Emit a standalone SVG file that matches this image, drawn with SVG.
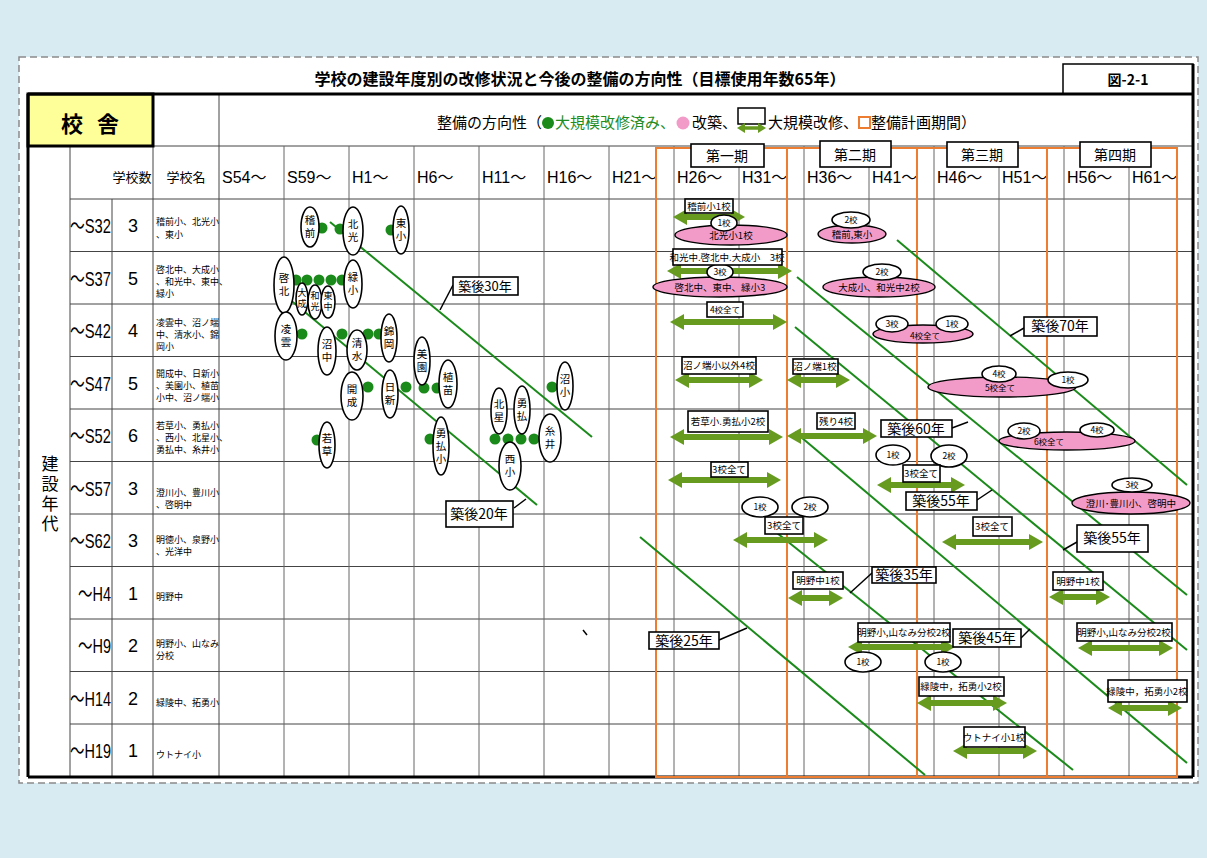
<svg xmlns="http://www.w3.org/2000/svg" width="1207" height="858" viewBox="0 0 1207 858">
<style>
.jp{font-family:"Noto Sans CJK JP","Noto Sans CJK SC",sans-serif}
.lat{font-family:"Liberation Sans","Noto Sans CJK JP",sans-serif}
.g{stroke:#666;stroke-width:1;fill:none}
.h{stroke:#444;stroke-width:1;fill:none}
.thick{stroke:#000;stroke-width:3;fill:none}
.org{stroke:#ed7d31;stroke-width:2;fill:none}
.dg{stroke:#1a8a1a;stroke-width:2;fill:none}
.co{stroke:#000;stroke-width:1.5;fill:none}
.bub{fill:#fff;stroke:#000;stroke-width:1.6}
.pk{fill:#f39bc8;stroke:#000;stroke-width:1.4}
.box{fill:#fff;stroke:#000;stroke-width:1.6}
.dot{fill:#1a8a1a}
.arr{stroke:#669b1f;stroke-width:6;marker-start:url(#ah);marker-end:url(#ah)}
.bt{font-size:10.5px;text-anchor:middle}
.st{font-size:9.5px;text-anchor:middle}
.nt{font-size:9px}
.ct{font-size:14px;text-anchor:middle}
.hd{font-size:16px}
.rl{font-size:21px;text-anchor:end}
.cn{font-size:18px;text-anchor:middle}
</style>
<defs>
<marker id="ah" viewBox="0 0 14 16" refX="1" refY="8" markerWidth="14" markerHeight="16" markerUnits="userSpaceOnUse" orient="auto-start-reverse"><path d="M0,0L14,8L0,16z" fill="#669b1f"/></marker>
<marker id="ahs" viewBox="0 0 8 10" refX="1" refY="5" markerWidth="8" markerHeight="10" markerUnits="userSpaceOnUse" orient="auto-start-reverse"><path d="M0,0L8,5L0,10z" fill="#669b1f"/></marker>
</defs>
<rect x="0" y="0" width="1207" height="858" fill="#d8eaf2"/>
<rect x="19" y="57" width="1179" height="726" fill="#fff" stroke="#8a8a8a" stroke-width="1.5" stroke-dasharray="7 4"/>

<g id="title">
<text class="jp" x="580" y="85" font-size="16" font-weight="bold" text-anchor="middle">学校の建設年度別の改修状況と今後の整備の方向性（目標使用年数65年）</text>
<rect x="1063" y="64" width="130" height="30" fill="#fff" stroke="#000" stroke-width="1.5"/>
<text class="jp" x="1128" y="85" font-size="14" font-weight="bold" text-anchor="middle">図-2-1</text>
</g>

<g id="grid">
<line class="h" x1="153" y1="146" x2="1193" y2="146"/>
<line class="h" x1="70" y1="199" x2="1193" y2="199"/>
<line class="h" x1="70" y1="251.5" x2="1193" y2="251.5"/>
<line class="h" x1="70" y1="304" x2="1193" y2="304"/>
<line class="h" x1="70" y1="356.5" x2="1193" y2="356.5"/>
<line class="h" x1="70" y1="409" x2="1193" y2="409"/>
<line class="h" x1="70" y1="461.5" x2="1193" y2="461.5"/>
<line class="h" x1="70" y1="514" x2="1193" y2="514"/>
<line class="h" x1="70" y1="566.5" x2="1193" y2="566.5"/>
<line class="h" x1="70" y1="619" x2="1193" y2="619"/>
<line class="h" x1="70" y1="671.5" x2="1193" y2="671.5"/>
<line class="h" x1="70" y1="724" x2="1193" y2="724"/>
<line class="h" x1="70" y1="146" x2="70" y2="777"/>
<line class="h" x1="112" y1="199" x2="112" y2="777"/>
<line class="h" x1="153" y1="94" x2="153" y2="777"/>
<line class="h" x1="219" y1="94" x2="219" y2="777"/>
<g class="g">
<line x1="284" y1="146" x2="284" y2="777"/><line x1="349" y1="146" x2="349" y2="777"/>
<line x1="414" y1="146" x2="414" y2="777"/><line x1="479" y1="146" x2="479" y2="777"/>
<line x1="544" y1="146" x2="544" y2="777"/><line x1="609" y1="146" x2="609" y2="777"/>
<line x1="674" y1="146" x2="674" y2="777"/><line x1="739" y1="146" x2="739" y2="777"/>
<line x1="804" y1="146" x2="804" y2="777"/><line x1="869" y1="146" x2="869" y2="777"/>
<line x1="934" y1="146" x2="934" y2="777"/><line x1="999" y1="146" x2="999" y2="777"/>
<line x1="1064" y1="146" x2="1064" y2="777"/><line x1="1129" y1="146" x2="1129" y2="777"/>
</g>
<rect x="28" y="94" width="125" height="52" fill="#ffff99" stroke="#000" stroke-width="3"/>
<text class="jp" x="72" y="132" font-size="22" font-weight="bold" text-anchor="middle">校</text>
<text class="jp" x="108" y="132" font-size="22" font-weight="bold" text-anchor="middle">舎</text>
<line class="thick" x1="28" y1="94" x2="1193" y2="94"/>
<line class="thick" x1="28" y1="94" x2="28" y2="777"/>
<line class="thick" x1="1193" y1="64" x2="1193" y2="777"/>
<line class="thick" x1="28" y1="777" x2="1193" y2="777"/>
<line x1="583" y1="630" x2="587" y2="635" stroke="#000" stroke-width="1.5"/>
</g>

<g id="legend">
<text class="jp" x="437" y="128" font-size="15">整備の方向性（</text>
<circle cx="548" cy="123" r="6" fill="#1a8a1a"/>
<text class="jp" x="555" y="128" font-size="15" fill="#1e8c1e">大規模改修済み、</text>
<circle cx="683" cy="123" r="6.5" fill="#f39bc8"/>
<text class="jp" x="692" y="128" font-size="15">改築、</text>
<rect x="738" y="108" width="27" height="16" fill="#fff" stroke="#000" stroke-width="1.5"/>
<line x1="744" y1="128" x2="759" y2="128" stroke="#669b1f" stroke-width="3.5" marker-start="url(#ahs)" marker-end="url(#ahs)"/>
<text class="jp" x="768" y="128" font-size="15">大規模改修、</text>
<rect x="859" y="117" width="11" height="11" fill="#fff" stroke="#ed7d31" stroke-width="2"/>
<text class="jp" x="871" y="128" font-size="15">整備計画期間）</text>
</g>

<g id="headers" class="lat hd">
<text x="222" y="183">S54～</text><text x="287" y="183">S59～</text>
<text x="352" y="183">H1～</text><text x="417" y="183">H6～</text>
<text x="482" y="183">H11～</text><text x="547" y="183">H16～</text>
<text x="612" y="183">H21～</text><text x="677" y="183">H26～</text>
<text x="742" y="183">H31～</text><text x="807" y="183">H36～</text>
<text x="872" y="183">H41～</text><text x="937" y="183">H46～</text>
<text x="1002" y="183">H51～</text><text x="1067" y="183">H56～</text>
<text x="1132" y="183">H61～</text>
<text class="jp" x="132" y="182" font-size="13" text-anchor="middle">学校数</text>
<text class="jp" x="186" y="182" font-size="13" text-anchor="middle">学校名</text>
</g>

<g id="periods">
<rect class="org" x="656" y="148" width="131" height="629"/>
<rect class="org" x="787" y="148" width="130" height="629"/>
<rect class="org" x="917" y="148" width="130" height="629"/>
<rect class="org" x="1047" y="148" width="130" height="629"/>
<g id="p1"><rect class="box" x="691" y="144" width="73" height="23"/><text class="jp ct" x="727" y="161" font-size="13">第一期</text></g>
<g id="p2"><rect class="box" x="820" y="141" width="71" height="26"/><text class="jp ct" x="855" y="160" font-size="13">第二期</text></g>
<g id="p3"><rect class="box" x="947" y="142" width="71" height="25"/><text class="jp ct" x="982" y="160" font-size="13">第三期</text></g>
<g id="p4"><rect class="box" x="1080" y="142" width="71" height="25"/><text class="jp ct" x="1115" y="160" font-size="13">第四期</text></g>
</g>

<g id="rowlabels">
<text class="jp" x="50" y="455" font-size="17" writing-mode="vertical-rl" letter-spacing="3">建設年代</text>
<g class="lat rl">
<text x="111" y="233" textLength="41" lengthAdjust="spacingAndGlyphs">～S32</text>
<text x="111" y="286" textLength="41" lengthAdjust="spacingAndGlyphs">～S37</text>
<text x="111" y="338" textLength="41" lengthAdjust="spacingAndGlyphs">～S42</text>
<text x="111" y="391" textLength="41" lengthAdjust="spacingAndGlyphs">～S47</text>
<text x="111" y="443" textLength="41" lengthAdjust="spacingAndGlyphs">～S52</text>
<text x="111" y="496" textLength="41" lengthAdjust="spacingAndGlyphs">～S57</text>
<text x="111" y="548" textLength="41" lengthAdjust="spacingAndGlyphs">～S62</text>
<text x="111" y="601" textLength="33" lengthAdjust="spacingAndGlyphs">～H4</text>
<text x="111" y="653" textLength="33" lengthAdjust="spacingAndGlyphs">～H9</text>
<text x="111" y="706" textLength="41" lengthAdjust="spacingAndGlyphs">～H14</text>
<text x="111" y="758" textLength="41" lengthAdjust="spacingAndGlyphs">～H19</text>
</g>
<g class="lat cn">
<text x="133" y="232">3</text><text x="133" y="285">5</text><text x="133" y="337">4</text>
<text x="133" y="390">5</text><text x="133" y="442">6</text><text x="133" y="495">3</text>
<text x="133" y="547">3</text><text x="133" y="600">1</text><text x="133" y="652">2</text>
<text x="133" y="705">2</text><text x="133" y="757">1</text>
</g>
<g class="jp nt">
<text x="156" y="225">稽前小、北光小</text><text x="156" y="238">、東小</text>
<text x="156" y="273">啓北中、大成小</text><text x="156" y="285">、和光中、東中、</text><text x="156" y="297">緑小</text>
<text x="156" y="326">凌雲中、沼ノ端</text><text x="156" y="338">中、清水小、錦</text><text x="156" y="350">岡小</text>
<text x="156" y="377">開成中、日新小</text><text x="156" y="389">、美園小、植苗</text><text x="156" y="401">小中、沼ノ端小</text>
<text x="156" y="429">若草小、勇払小</text><text x="156" y="441">、西小、北星小、</text><text x="156" y="453">勇払中、糸井小</text>
<text x="156" y="496">澄川小、豊川小</text><text x="156" y="508">、啓明中</text>
<text x="156" y="543">明徳小、泉野小</text><text x="156" y="555">、光洋中</text>
<text x="156" y="600">明野中</text>
<text x="156" y="647">明野小、山なみ</text><text x="156" y="659">分校</text>
<text x="156" y="706">緑陵中、拓勇小</text>
<text x="156" y="758">ウトナイ小</text>
</g>
</g>

<g id="connectors">
<line class="dg" x1="330" y1="222" x2="592" y2="437"/>
<line class="dg" x1="288" y1="298" x2="537" y2="505"/>
<line class="dg" x1="640" y1="537" x2="925" y2="775"/>
<line class="dg" x1="797" y1="277" x2="1187" y2="595"/>
<line class="dg" x1="897" y1="240" x2="1187" y2="485"/>
<line class="dg" x1="795" y1="327" x2="1187" y2="650"/>
<line class="dg" x1="777" y1="533" x2="1073" y2="770"/>
<line class="dg" x1="795" y1="432" x2="1187" y2="763"/>
<line class="co" x1="440" y1="310" x2="453" y2="285"/>
<line class="co" x1="514" y1="508" x2="526" y2="499"/>
<line class="co" x1="719" y1="640" x2="747" y2="628"/>
<line class="co" x1="872" y1="573" x2="850" y2="593"/>
<line class="co" x1="1021" y1="638" x2="1030" y2="629"/>
<line class="co" x1="977" y1="500" x2="992" y2="490"/>
<line class="co" x1="1077" y1="542" x2="1063" y2="550"/>
<line class="co" x1="952" y1="428" x2="968" y2="422"/>
<line class="co" x1="1024" y1="328" x2="1010" y2="336"/>
</g>

<g id="dots">
<circle class="dot" cx="322" cy="228" r="5.5"/><circle class="dot" cx="340" cy="229" r="5.5"/><circle class="dot" cx="391" cy="230" r="5.5"/>
<circle class="dot" cx="296" cy="280" r="5.5"/><circle class="dot" cx="307" cy="280" r="5.5"/><circle class="dot" cx="319" cy="280" r="5.5"/><circle class="dot" cx="331" cy="280" r="5.5"/><circle class="dot" cx="342" cy="280" r="5.5"/>
<circle class="dot" cx="302" cy="334" r="5.5"/><circle class="dot" cx="342" cy="334" r="5.5"/><circle class="dot" cx="368" cy="334" r="5.5"/><circle class="dot" cx="379" cy="334" r="5.5"/>
<circle class="dot" cx="368" cy="387" r="5.5"/><circle class="dot" cx="406" cy="387" r="5.5"/><circle class="dot" cx="424" cy="388" r="5.5"/><circle class="dot" cx="437" cy="388" r="5.5"/><circle class="dot" cx="552" cy="387" r="5.5"/>
<circle class="dot" cx="317" cy="440" r="5.5"/><circle class="dot" cx="430" cy="439" r="5.5"/><circle class="dot" cx="495" cy="439" r="5.5"/><circle class="dot" cx="508" cy="439" r="5.5"/><circle class="dot" cx="521" cy="439" r="5.5"/><circle class="dot" cx="534" cy="439" r="5.5"/>
</g>

<g id="bubbles" class="jp bt">
<g id="b-inamae"><ellipse class="bub" cx="310" cy="227" rx="9" ry="20"/><text x="310" y="224">稽</text><text x="310" y="237">前</text></g>
<g id="b-hokko"><ellipse class="bub" cx="353" cy="231" rx="10" ry="24"/><text x="353" y="228">北</text><text x="353" y="241">光</text></g>
<g id="b-higashisho"><ellipse class="bub" cx="401" cy="230" rx="8" ry="24"/><text x="401" y="227">東</text><text x="401" y="240">小</text></g>
<g id="b-keihoku"><ellipse class="bub" cx="284" cy="285" rx="10" ry="28"/><text x="284" y="282">啓</text><text x="284" y="295">北</text></g>
<g id="b-taisei"><ellipse class="bub" cx="302" cy="299" rx="6" ry="16"/><text x="302" y="296" font-size="9">大</text><text x="302" y="307" font-size="9">成</text></g>
<g id="b-wako"><ellipse class="bub" cx="315" cy="302" rx="7" ry="17"/><text x="315" y="299" font-size="9">和</text><text x="315" y="310" font-size="9">光</text></g>
<g id="b-higashichu"><ellipse class="bub" cx="328" cy="302" rx="7" ry="16"/><text x="328" y="299" font-size="9">東</text><text x="328" y="310" font-size="9">中</text></g>
<g id="b-midori"><ellipse class="bub" cx="353" cy="284" rx="9" ry="24"/><text x="353" y="281">緑</text><text x="353" y="294">小</text></g>
<g id="b-ryoun"><ellipse class="bub" cx="286" cy="336" rx="11" ry="24"/><text x="286" y="333">凌</text><text x="286" y="346">雲</text></g>
<g id="b-numachu"><ellipse class="bub" cx="327" cy="351" rx="9" ry="24"/><text x="327" y="348">沼</text><text x="327" y="361">中</text></g>
<g id="b-shimizu"><ellipse class="bub" cx="357" cy="350" rx="10" ry="20"/><text x="357" y="347">清</text><text x="357" y="360">水</text></g>
<g id="b-nishikioka"><ellipse class="bub" cx="389" cy="338" rx="8" ry="24"/><text x="389" y="335">錦</text><text x="389" y="348">岡</text></g>
<g id="b-kaisei"><ellipse class="bub" cx="352" cy="396" rx="11" ry="24"/><text x="352" y="393">開</text><text x="352" y="406">成</text></g>
<g id="b-nisshin"><ellipse class="bub" cx="390" cy="394" rx="8" ry="24"/><text x="390" y="391">日</text><text x="390" y="404">新</text></g>
<g id="b-misono"><ellipse class="bub" cx="422" cy="361" rx="8" ry="24"/><text x="422" y="358">美</text><text x="422" y="371">園</text></g>
<g id="b-uenae"><ellipse class="bub" cx="448" cy="384" rx="9" ry="24"/><text x="448" y="381">植</text><text x="448" y="394">苗</text></g>
<g id="b-numasho"><ellipse class="bub" cx="565" cy="386" rx="8" ry="24"/><text x="565" y="383">沼</text><text x="565" y="396">小</text></g>
<g id="b-wakakusa"><ellipse class="bub" cx="327" cy="445" rx="8" ry="23"/><text x="327" y="442">若</text><text x="327" y="455">草</text></g>
<g id="b-yufutsusho"><ellipse class="bub" cx="441" cy="446" rx="8" ry="29"/><text x="441" y="437">勇</text><text x="441" y="450">払</text><text x="441" y="463">小</text></g>
<g id="b-hokusei"><ellipse class="bub" cx="499" cy="411" rx="8" ry="23"/><text x="499" y="408">北</text><text x="499" y="421">星</text></g>
<g id="b-yufutsu"><ellipse class="bub" cx="522" cy="410" rx="8" ry="24"/><text x="522" y="407">勇</text><text x="522" y="420">払</text></g>
<g id="b-nishi"><ellipse class="bub" cx="510" cy="466" rx="11" ry="24"/><text x="510" y="463">西</text><text x="510" y="476">小</text></g>
<g id="b-itoi"><ellipse class="bub" cx="550" cy="438" rx="11" ry="24"/><text x="550" y="435">糸</text><text x="550" y="448">井</text></g>
</g>

<g id="arrows">
<line class="arr" x1="686" y1="217" x2="732" y2="217"/>
<line class="arr" x1="680" y1="271" x2="779" y2="271"/>
<line class="arr" x1="683" y1="322" x2="774" y2="322"/>
<line class="arr" x1="688" y1="380" x2="750" y2="380"/>
<line class="arr" x1="800" y1="380" x2="837" y2="380"/>
<line class="arr" x1="683" y1="437" x2="770" y2="437"/>
<line class="arr" x1="800" y1="436" x2="864" y2="436"/>
<line class="arr" x1="681" y1="480" x2="768" y2="480"/>
<line class="arr" x1="890" y1="485" x2="952" y2="485"/>
<line class="arr" x1="746" y1="540" x2="815" y2="540"/>
<line class="arr" x1="955" y1="542" x2="1030" y2="542"/>
<line class="arr" x1="801" y1="598" x2="830" y2="598"/>
<line class="arr" x1="1062" y1="597" x2="1097" y2="597"/>
<line class="arr" x1="861" y1="647" x2="942" y2="647"/>
<line class="arr" x1="1091" y1="648" x2="1160" y2="648"/>
<line class="arr" x1="930" y1="703" x2="994" y2="703"/>
<line class="arr" x1="1121" y1="708" x2="1169" y2="708"/>
<line class="arr" x1="966" y1="751" x2="1024" y2="751"/>
</g>

<g id="rebuild" class="jp st">
<g id="pk1"><ellipse class="pk" cx="731" cy="235" rx="56" ry="10"/><text x="731" y="239">北光小1校</text></g>
<g id="w1"><ellipse class="bub" cx="724" cy="223" rx="13" ry="8"/><text x="724" y="226" font-size="8.5">1校</text></g>
<g id="pk2"><ellipse class="pk" cx="852" cy="234" rx="34" ry="9"/><text x="852" y="238">稽前,東小</text></g>
<g id="w2"><ellipse class="bub" cx="851" cy="220" rx="19" ry="8"/><text x="851" y="223" font-size="8.5">2校</text></g>
<g id="pk3"><ellipse class="pk" cx="720" cy="287" rx="67" ry="10"/><text x="720" y="291">啓北中、東中、緑小3</text></g>
<g id="w3"><ellipse class="bub" cx="720" cy="272" rx="13" ry="8"/><text x="720" y="275" font-size="8.5">3校</text></g>
<g id="pk4"><ellipse class="pk" cx="879" cy="287" rx="56" ry="10"/><text x="879" y="291">大成小、和光中2校</text></g>
<g id="w4"><ellipse class="bub" cx="882" cy="272" rx="19" ry="8"/><text x="882" y="275" font-size="8.5">2校</text></g>
<g id="pk5"><ellipse class="pk" cx="923" cy="334" rx="50" ry="9"/><text x="925" y="339" font-size="8.5">4校全て</text></g>
<g id="w5"><ellipse class="bub" cx="892" cy="324" rx="16" ry="8"/><text x="892" y="327" font-size="8.5">3校</text></g>
<g id="w6"><ellipse class="bub" cx="952" cy="324" rx="16" ry="8"/><text x="952" y="327" font-size="8.5">1校</text></g>
<g id="pk6"><ellipse class="pk" cx="1002" cy="387" rx="74" ry="10"/><text x="1000" y="391" font-size="8.5">5校全て</text></g>
<g id="w7"><ellipse class="bub" cx="999" cy="374" rx="17" ry="8"/><text x="999" y="377" font-size="8.5">4校</text></g>
<g id="w8"><ellipse class="bub" cx="1068" cy="380" rx="20" ry="8"/><text x="1068" y="383" font-size="8.5">1校</text></g>
<g id="pk7"><ellipse class="pk" cx="1067" cy="441" rx="68" ry="9"/><text x="1049" y="445" font-size="8.5">6校全て</text></g>
<g id="w9"><ellipse class="bub" cx="1024" cy="431" rx="16" ry="8"/><text x="1024" y="434" font-size="8.5">2校</text></g>
<g id="w10"><ellipse class="bub" cx="1097" cy="430" rx="17" ry="7"/><text x="1097" y="433" font-size="8.5">4校</text></g>
<g id="pk8"><ellipse class="pk" cx="1131" cy="503" rx="59" ry="11"/><text x="1131" y="507">澄川･豊川小、啓明中</text></g>
<g id="w11"><ellipse class="bub" cx="1132" cy="485" rx="20" ry="7"/><text x="1132" y="488" font-size="8.5">3校</text></g>
<g id="w12"><ellipse class="bub" cx="893" cy="455" rx="17" ry="10"/><text x="893" y="458" font-size="8.5">1校</text></g>
<g id="w13"><ellipse class="bub" cx="949" cy="456" rx="18" ry="11"/><text x="949" y="459" font-size="8.5">2校</text></g>
<g id="w14"><ellipse class="bub" cx="760" cy="507" rx="18" ry="10"/><text x="760" y="510" font-size="8.5">1校</text></g>
<g id="w15"><ellipse class="bub" cx="810" cy="507" rx="18" ry="10"/><text x="810" y="510" font-size="8.5">2校</text></g>
<g id="w16"><ellipse class="bub" cx="863" cy="662" rx="18" ry="10"/><text x="863" y="665" font-size="8.5">1校</text></g>
<g id="w17"><ellipse class="bub" cx="943" cy="662" rx="18" ry="10"/><text x="943" y="665" font-size="8.5">1校</text></g>
</g>

<g id="labels" class="jp st">
<g id="l1"><rect class="box" x="685" y="199" width="48" height="14"/><text x="709" y="210">稽前小1校</text></g>
<g id="l2"><rect class="box" x="673" y="249" width="109" height="16"/><text x="727" y="261">和光中.啓北中.大成小　3校</text></g>
<g id="l3"><rect class="box" x="707" y="302" width="36" height="15"/><text x="725" y="313" font-size="8.5">4校全て</text></g>
<g id="l4"><rect class="box" x="682" y="357" width="74" height="17"/><text x="719" y="369">沼ノ端小以外4校</text></g>
<g id="l5"><rect class="box" x="793" y="359" width="45" height="15"/><text x="815" y="370">沼ノ端1校</text></g>
<g id="l6"><rect class="box" x="688" y="411" width="80" height="21"/><text x="728" y="425">若草小.勇払小2校</text></g>
<g id="l7"><rect class="box" x="817" y="413" width="38" height="16"/><text x="836" y="425">残り4校</text></g>
<g id="l8"><rect class="box" x="711" y="462" width="37" height="15"/><text x="729" y="473">3校全て</text></g>
<g id="l9"><rect class="box" x="903" y="465" width="37" height="17"/><text x="921" y="477">3校全て</text></g>
<g id="l10"><rect class="box" x="765" y="517" width="38" height="17"/><text x="784" y="529">3校全て</text></g>
<g id="l11"><rect class="box" x="973" y="517" width="39" height="19"/><text x="992" y="530">3校全て</text></g>
<g id="l12"><rect class="box" x="793" y="572" width="50" height="17"/><text x="818" y="584">明野中1校</text></g>
<g id="l13"><rect class="box" x="1053" y="572" width="50" height="18"/><text x="1078" y="585">明野中1校</text></g>
<g id="l14"><rect class="box" x="858" y="623" width="92" height="19"/><text x="904" y="636">明野小,山なみ分校2校</text></g>
<g id="l15"><rect class="box" x="1077" y="623" width="95" height="18"/><text x="1124" y="636">明野小,山なみ分校2校</text></g>
<g id="l16"><rect class="box" x="919" y="677" width="85" height="19"/><text x="961" y="690">緑陵中，拓勇小2校</text></g>
<g id="l17"><rect class="box" x="1108" y="680" width="79" height="22"/><text x="1147" y="695">緑陵中，拓勇小2校</text></g>
<g id="l18"><rect class="box" x="964" y="727" width="61" height="20"/><text x="994" y="741">ウトナイ小1校</text></g>
</g>

<g id="agelabels" class="jp ct">
<g id="a30"><rect class="box" x="453" y="277" width="65" height="18"/><text x="485" y="291" font-size="13">築後30年</text></g>
<g id="a20"><rect class="box" x="446" y="501" width="67" height="26"/><text x="479" y="519">築後20年</text></g>
<g id="a25"><rect class="box" x="649" y="632" width="70" height="17"/><text x="684" y="646">築後25年</text></g>
<g id="a35"><rect class="box" x="872" y="567" width="64" height="16"/><text x="904" y="580">築後35年</text></g>
<g id="a45"><rect class="box" x="953" y="629" width="68" height="18"/><text x="987" y="643">築後45年</text></g>
<g id="a55a"><rect class="box" x="906" y="492" width="71" height="18"/><text x="941" y="506">築後55年</text></g>
<g id="a55b"><rect class="box" x="1077" y="525" width="71" height="27"/><text x="1112" y="543">築後55年</text></g>
<g id="a60"><rect class="box" x="881" y="420" width="71" height="17"/><text x="916" y="434">築後60年</text></g>
<g id="a70"><rect class="box" x="1024" y="317" width="73" height="19"/><text x="1060" y="331">築後70年</text></g>
</g>
</svg>
